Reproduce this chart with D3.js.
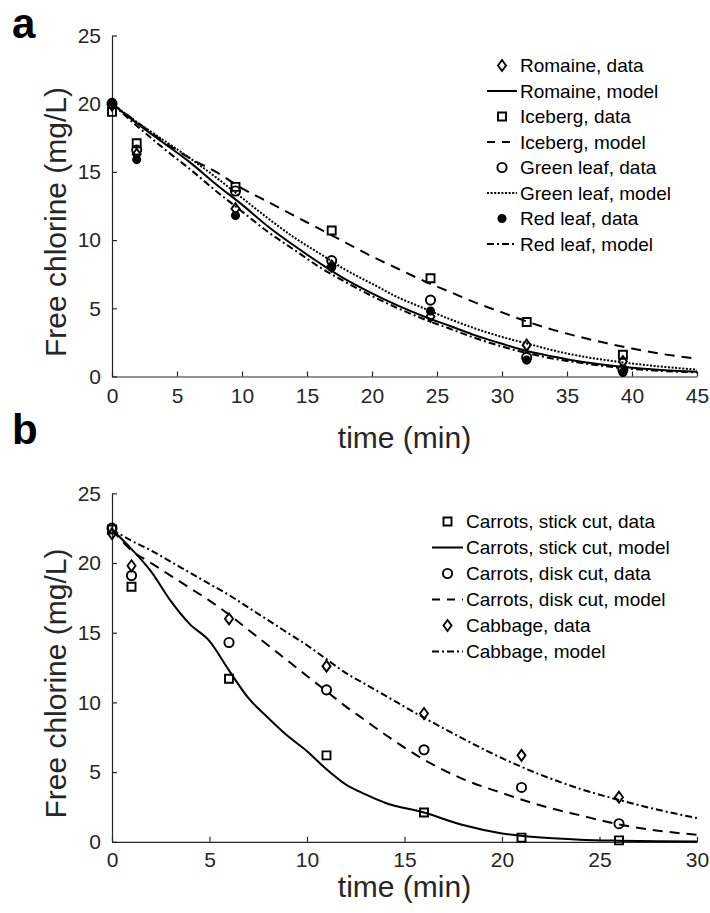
<!DOCTYPE html>
<html>
<head>
<meta charset="utf-8">
<script src="https://cdn.jsdelivr.net/npm/d3@7"></script>
<style>
  html, body { margin: 0; padding: 0; background: #fff; }
  text { font-family: "Liberation Sans", Arial, Helvetica, sans-serif; }
</style>
</head>
<body>
<script>
// ---------------- DATA ----------------
// Panel a: lettuce
const timeA = [0, 1.9, 9.5, 16.9, 24.5, 31.9, 39.3];
const romaineData  = [19.9, 16.3, 12.3, 8.1, 4.4, 2.3, 1.1];
const icebergData  = [19.4, 17.1, 13.9, 10.7, 7.2, 4.0, 1.6];
const greenData    = [20.0, 16.6, 13.6, 8.5, 5.6, 1.4, 0.5];
const redData      = [20.1, 15.9, 11.8, 8.0, 4.8, 1.2, 0.3];

const modelTimeA = [0, 2, 4, 6, 8, 10, 12, 14, 16, 18, 20, 22, 24, 26, 28, 30, 32, 34, 36, 38, 40, 42, 45];
const romaineModel = [20, 18.5, 17.1, 15.7, 14.1, 12.6, 11.0, 9.6, 8.3, 7.1, 6.1, 5.2, 4.4, 3.7, 3.0, 2.4, 1.85, 1.45, 1.1, 0.85, 0.65, 0.5, 0.35];
const icebergModel = [20, 18.6, 17.2, 16.0, 15.0, 13.8, 12.8, 11.8, 10.8, 9.8, 8.8, 7.9, 7.0, 6.2, 5.4, 4.7, 4.0, 3.4, 2.9, 2.45, 2.05, 1.7, 1.3];
const greenModel   = [20, 18.6, 17.3, 16.0, 14.6, 13.1, 11.6, 10.2, 9.0, 7.8, 6.8, 5.8, 5.0, 4.2, 3.5, 2.9, 2.4, 1.9, 1.5, 1.2, 0.95, 0.75, 0.5];
const redModel     = [20, 18.3, 16.7, 15.2, 13.6, 12.1, 10.6, 9.3, 8.0, 6.9, 5.9, 5.0, 4.2, 3.5, 2.8, 2.2, 1.7, 1.3, 1.0, 0.75, 0.55, 0.42, 0.3];

// Panel b: carrots & cabbage
const timeB = [0, 1, 6, 11, 16, 21, 26];
const stickData   = [22.4, 18.3, 11.7, 6.2, 2.1, 0.3, 0.1];
const diskData    = [22.5, 19.1, 14.3, 10.9, 6.6, 3.9, 1.3];
const cabbageData = [22.1, 19.8, 16.0, 12.6, 9.2, 6.2, 3.2];

const modelTimeB = [0, 1, 2, 3, 4, 5, 6, 7, 8, 9, 10, 11, 12, 13, 14, 16, 18, 20, 22, 24, 26, 28, 30];
const stickModel   = [22.4, 21.0, 19.4, 17.3, 15.6, 14.4, 12.3, 10.3, 8.9, 7.6, 6.5, 5.2, 4.1, 3.4, 2.8, 2.1, 1.2, 0.6, 0.3, 0.15, 0.08, 0.04, 0.02];
const diskModel    = [22.4, 20.9, 20.0, 19.1, 18.2, 17.3, 16.3, 15.2, 14.1, 13.0, 11.9, 10.8, 9.7, 8.7, 7.7, 5.9, 4.5, 3.5, 2.6, 1.9, 1.25, 0.8, 0.5];
const cabbageModel = [22.4, 21.6, 20.9, 20.1, 19.3, 18.5, 17.7, 16.8, 15.9, 15.0, 14.1, 13.1, 12.1, 11.3, 10.5, 8.9, 7.4, 6.0, 4.8, 3.8, 3.0, 2.3, 1.7];

const ticksYA = [0, 5, 10, 15, 20, 25];
const ticksXA = [0, 5, 10, 15, 20, 25, 30, 35, 40, 45];
const ticksYB = [0, 5, 10, 15, 20, 25];
const ticksXB = [0, 5, 10, 15, 20, 25, 30];

const legendA = ["Romaine, data", "Romaine, model", "Iceberg, data", "Iceberg, model",
                 "Green leaf, data", "Green leaf, model", "Red leaf, data", "Red leaf, model"];
const legendB = ["Carrots, stick cut, data", "Carrots, stick cut, model", "Carrots, disk cut, data",
                 "Carrots, disk cut, model", "Cabbage, data", "Cabbage, model"];

// ---------------- STYLES ----------------
const AX = "#262626";
const dashStyles = { solid: null, dashed: "10,7", dotted: "2,1.6", dashdot: "7,3,2,3" };

function markerPath(kind) {
  if (kind === "diamond") return "M0,-5.5L4,0L0,5.5L-4,0Z";
  if (kind === "square") return "M-4,-4H4V4H-4Z";
  const r = kind === "dot" ? 3.6 : 4.6;
  return `M${r},0A${r},${r} 0 1,1 ${-r},0A${r},${r} 0 1,1 ${r},0Z`;
}

const svg = d3.select("body").append("svg").attr("width", 710).attr("height", 913);

function drawPanel(cfg) {
  const x = d3.scaleLinear().domain(cfg.xDomain).range([cfg.left, cfg.right]);
  const y = d3.scaleLinear().domain([0, 25]).range([cfg.bottom, cfg.top]);
  const g = svg.append("g");

  // axes
  const xAxis = d3.axisBottom(x).tickValues(cfg.ticksX).tickSizeInner(-5).tickSizeOuter(0).tickPadding(cfg.xPad);
  const yAxis = d3.axisLeft(y).tickValues(cfg.ticksY).tickSizeInner(-5).tickSizeOuter(0).tickPadding(11);
  const gx = g.append("g").attr("transform", `translate(0,${cfg.bottom})`).call(xAxis);
  const gy = g.append("g").attr("transform", `translate(${cfg.left},0)`).call(yAxis);
  [gx, gy].forEach(a => {
    a.select(".domain").attr("stroke", AX).attr("stroke-width", 1.2);
    a.selectAll(".tick line").attr("stroke", AX).attr("stroke-width", 1.2);
    a.selectAll(".tick text").attr("fill", AX).style("font-size", "21px")
      .style("font-family", "'Liberation Sans', Arial, sans-serif");
  });

  // model lines
  const line = d3.line().x(d => x(d[0])).y(d => y(d[1])).curve(d3.curveMonotoneX);
  cfg.models.forEach(m => {
    g.append("path")
      .attr("d", line(cfg.modelTime.map((t, i) => [t, m.values[i]])))
      .attr("fill", "none").attr("stroke", "#000").attr("stroke-width", 2)
      .attr("stroke-dasharray", dashStyles[m.style]);
  });

  // data markers
  cfg.data.forEach(s => {
    g.append("g").selectAll("path").data(cfg.time.map((t, i) => [t, s.values[i]]))
      .join("path")
      .attr("transform", d => `translate(${x(d[0])},${y(d[1])})`)
      .attr("d", markerPath(s.marker))
      .attr("fill", s.marker === "dot" ? "#000" : "none")
      .attr("stroke", "#000").attr("stroke-width", 1.9);
  });

  // legend
  const lg = g.append("g");
  cfg.legend.forEach((label, i) => {
    const cy = cfg.legY + i * cfg.legStep;
    const item = cfg.legendItems[i];
    if (item.type === "marker") {
      lg.append("path").attr("transform", `translate(${(cfg.legX0 + cfg.legX1) / 2},${cy})`)
        .attr("d", markerPath(item.marker))
        .attr("fill", item.marker === "dot" ? "#000" : "none")
        .attr("stroke", "#000").attr("stroke-width", 1.9);
    } else {
      lg.append("line").attr("x1", cfg.legX0).attr("x2", cfg.legX1).attr("y1", cy).attr("y2", cy)
        .attr("stroke", "#000").attr("stroke-width", 2)
        .attr("stroke-dasharray", item.style === "dashed" ? "8,7" : dashStyles[item.style]);
    }
    lg.append("text").attr("x", cfg.legX1 + 3).attr("y", cy + 6.5)
      .style("font-size", "19px").attr("fill", "#000").text(label);
  });

  // axis labels
  g.append("text").attr("x", (cfg.left + cfg.right) / 2).attr("y", cfg.xLabelY)
    .attr("text-anchor", "middle").attr("fill", AX).style("font-size", "30px").text("time (min)");
  g.append("text").attr("transform", `translate(66,${(cfg.top + cfg.bottom) / 2 + 16}) rotate(-90)`)
    .attr("text-anchor", "middle").attr("fill", AX).style("font-size", "30px").text("Free chlorine (mg/L)");

  // panel letter
  g.append("text").attr("x", 12).attr("y", cfg.letterY)
    .style("font-size", "42px").style("font-weight", "bold").attr("fill", "#000").text(cfg.letter);
}

drawPanel({
  letter: "a", letterY: 38,
  left: 112, right: 697, top: 35.5, bottom: 376.5,
  xDomain: [0, 45], ticksX: ticksXA, ticksY: ticksYA,
  time: timeA, modelTime: modelTimeA,
  data: [
    { values: romaineData, marker: "diamond" },
    { values: icebergData, marker: "square" },
    { values: greenData, marker: "circle" },
    { values: redData, marker: "dot" }
  ],
  models: [
    { values: romaineModel, style: "solid" },
    { values: icebergModel, style: "dashed" },
    { values: greenModel, style: "dotted" },
    { values: redModel, style: "dashdot" }
  ],
  legend: legendA,
  legendItems: [
    { type: "marker", marker: "diamond" }, { type: "line", style: "solid" },
    { type: "marker", marker: "square" }, { type: "line", style: "dashed" },
    { type: "marker", marker: "circle" }, { type: "line", style: "dotted" },
    { type: "marker", marker: "dot" }, { type: "line", style: "dashdot" }
  ],
  legX0: 487, legX1: 517, legY: 65.5, legStep: 25.5,
  xLabelY: 448, xPad: 12
});

drawPanel({
  letter: "b", letterY: 444,
  left: 112, right: 697, top: 493.3, bottom: 841.8,
  xDomain: [0, 30], ticksX: ticksXB, ticksY: ticksYB,
  time: timeB, modelTime: modelTimeB,
  data: [
    { values: stickData, marker: "square" },
    { values: diskData, marker: "circle" },
    { values: cabbageData, marker: "diamond" }
  ],
  models: [
    { values: stickModel, style: "solid" },
    { values: diskModel, style: "dashed" },
    { values: cabbageModel, style: "dashdot" }
  ],
  legend: legendB,
  legendItems: [
    { type: "marker", marker: "square" }, { type: "line", style: "solid" },
    { type: "marker", marker: "circle" }, { type: "line", style: "dashed" },
    { type: "marker", marker: "diamond" }, { type: "line", style: "dashdot" }
  ],
  legX0: 432, legX1: 463, legY: 521.5, legStep: 26,
  xLabelY: 897, xPad: 10
});
</script>
</body>
</html>
